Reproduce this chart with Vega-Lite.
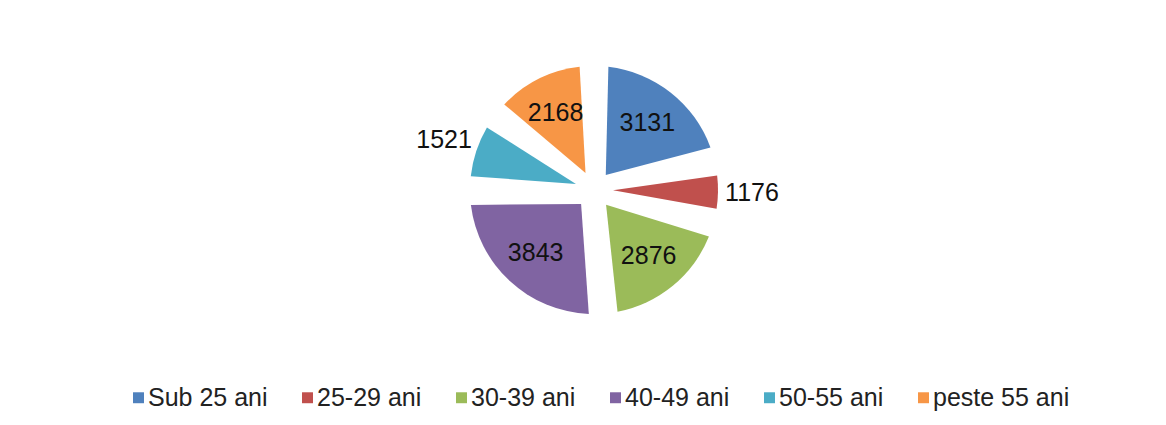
{
  "$schema": "https://vega.github.io/schema/vega-lite/v6.json",
  "width": 1144,
  "height": 380,
  "padding": {"left": 22, "top": 0, "right": 0, "bottom": 0},
  "autosize": {"type": "pad"},
  "background": "white",
  "config": {"view": {"stroke": null}},
  "data": {
    "values": [
      {"grupa": "Sub 25 ani", "numar": 3131, "ordine": 1},
      {"grupa": "25-29 ani", "numar": 1176, "ordine": 2},
      {"grupa": "30-39 ani", "numar": 2876, "ordine": 3},
      {"grupa": "40-49 ani", "numar": 3843, "ordine": 4},
      {"grupa": "50-55 ani", "numar": 1521, "ordine": 5},
      {"grupa": "peste 55 ani", "numar": 2168, "ordine": 6}
    ]
  },
  "encoding": {
    "theta": {"field": "numar", "type": "quantitative", "stack": true},
    "order": {"field": "ordine", "type": "quantitative"}
  },
  "layer": [
    {
      "mark": {"type": "arc", "outerRadius": 124, "innerRadius": 19, "padAngle": 0.23, "strokeWidth": 0},
      "encoding": {
        "color": {
          "field": "grupa",
          "type": "nominal",
          "sort": ["Sub 25 ani", "25-29 ani", "30-39 ani", "40-49 ani", "50-55 ani", "peste 55 ani"],
          "scale": {
            "domain": ["Sub 25 ani", "25-29 ani", "30-39 ani", "40-49 ani", "50-55 ani", "peste 55 ani"],
            "range": ["#4F81BD", "#C0504D", "#9BBB59", "#8064A2", "#4BACC6", "#F79646"]
          },
          "legend": {
            "orient": "none",
            "legendX": 104,
            "legendY": 385,
            "direction": "horizontal",
            "columns": 6,
            "title": null,
            "symbolType": "square",
            "symbolSize": 120,
            "symbolStrokeWidth": 0,
            "labelFontSize": 25,
            "labelFont": "Liberation Sans",
            "labelColor": "#222222",
            "labelOffset": -3,
            "columnPadding": 27,
            "padding": 0
          }
        }
      }
    },
    {
      "mark": {"type": "text", "radius": 86, "fontSize": 25, "font": "Liberation Sans", "align": "center", "baseline": "middle"},
      "encoding": {
        "detail": {"field": "grupa", "type": "nominal"},
        "text": {"field": "numar", "type": "quantitative"},
        "color": {"value": "#111111"},
        "opacity": {"condition": {"test": "datum.numar >= 2000", "value": 1}, "value": 0}
      }
    },
    {
      "mark": {"type": "text", "radius": 158, "fontSize": 25, "font": "Liberation Sans", "align": "center", "baseline": "middle"},
      "encoding": {
        "detail": {"field": "grupa", "type": "nominal"},
        "text": {"field": "numar", "type": "quantitative"},
        "color": {"value": "#111111"},
        "opacity": {"condition": {"test": "datum.numar < 2000", "value": 1}, "value": 0}
      }
    }
  ]
}
